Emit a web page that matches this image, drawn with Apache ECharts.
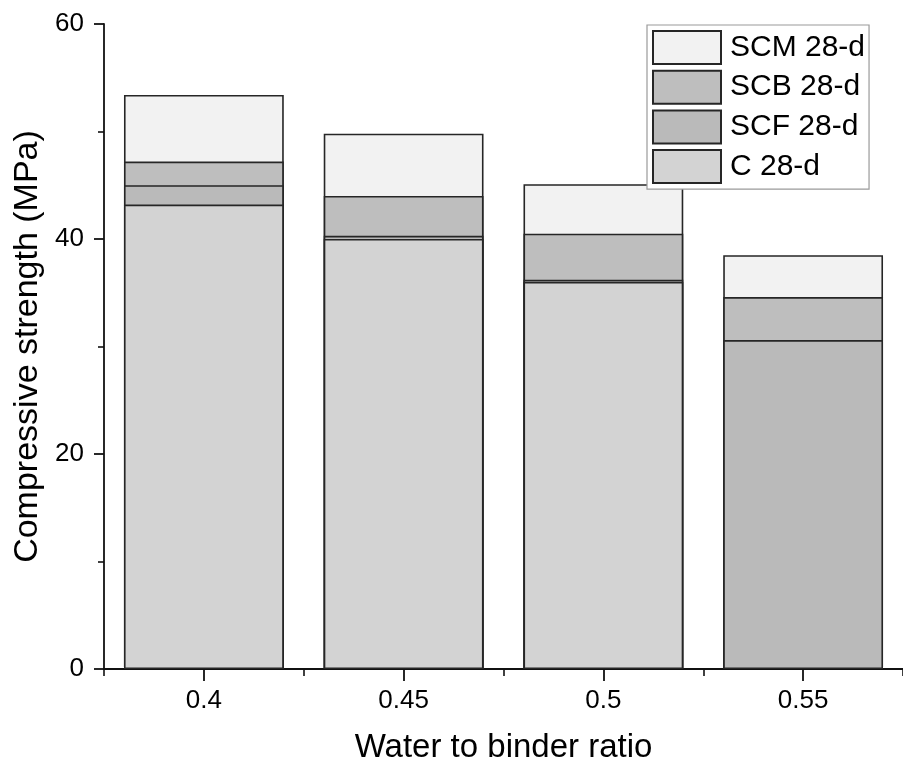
<!DOCTYPE html>
<html>
<head>
<meta charset="utf-8">
<title>Compressive strength vs water to binder ratio</title>
<script src="https://cdn.jsdelivr.net/npm/echarts@6/dist/echarts.min.js"></script>
<style>
  html, body { margin: 0; padding: 0; background: #ffffff; }
  #chart { width: 903px; height: 771px; }
</style>
</head>
<body>
<div id="chart"></div>
<script>
// Water to binder ratios (x categories)
const categories = ['0.4', '0.45', '0.5', '0.55'];

// 28-day compressive strength, MPa
const scm28 = [53.4, 49.8, 45.1, 38.5];
const scb28 = [47.2, 44.0, 40.5, 34.6];
const scf28 = [45.0, 40.3, 36.2, 30.6];
const c28   = [43.2, 40.0, 36.0, null];

const seriesNames = ['SCM 28-d', 'SCB 28-d', 'SCF 28-d', 'C 28-d'];
const seriesData  = [scm28, scb28, scf28, c28];
const seriesFill  = ['#f2f2f2', '#bebebe', '#bababa', '#d3d3d3'];

// y axis ticks
const yMin = 0, yMax = 60, yStep = 20;

const FONT = 'Liberation Sans, Arial, sans-serif';
const AXIS_COLOR = '#111111';

const chart = echarts.init(document.getElementById('chart'), null, { renderer: 'canvas' });

// Bars share one slot per category and overlap: later series sit in front.
const series = seriesNames.map((name, i) => ({
  name: name,
  type: 'bar',
  xAxisIndex: 0,
  data: seriesData[i],
  barWidth: '80%',
  barGap: '-100%',
  itemStyle: {
    color: seriesFill[i],
    borderColor: '#262626',
    borderWidth: 1.6
  },
  emphasis: { disabled: true },
  animation: false
}));

chart.setOption({
  animation: false,
  backgroundColor: '#ffffff',
  textStyle: { fontFamily: FONT },
  grid: { left: 104, top: 24, width: 800, height: 645, containLabel: false },
  legend: {
    data: seriesNames,
    orient: 'vertical',
    left: 647,
    top: 25,
    padding: [5, 4, 5, 5],
    itemWidth: 68,
    itemHeight: 33,
    itemGap: 4.7,
    selectedMode: false,
    borderColor: '#9a9a9a',
    borderWidth: 1.2,
    backgroundColor: '#ffffff',
    icon: 'rect',
    textStyle: { fontFamily: FONT, fontSize: 30, color: '#000000', padding: [0, 0, 0, 4] }
  },
  xAxis: [
    {
      type: 'category',
      data: categories,
      position: 'bottom',
      boundaryGap: true,
      name: 'Water to binder ratio',
      nameLocation: 'middle',
      nameGap: 62,
      nameTextStyle: { fontFamily: FONT, fontSize: 33, color: '#000000' },
      axisLine: { show: true, lineStyle: { color: AXIS_COLOR, width: 1.8 } },
      axisTick: { show: true, alignWithLabel: true, length: 12, lineStyle: { color: AXIS_COLOR, width: 1.8 } },
      axisLabel: { fontFamily: FONT, fontSize: 26, color: '#000000', margin: 19 },
      splitLine: { show: false }
    },
    {
      // boundary ticks between categories
      type: 'category',
      data: categories,
      position: 'bottom',
      offset: 0,
      boundaryGap: true,
      axisLine: { show: false },
      axisTick: { show: true, alignWithLabel: false, length: 7, lineStyle: { color: AXIS_COLOR, width: 1.6 } },
      axisLabel: { show: false },
      splitLine: { show: false }
    }
  ],
  yAxis: {
    type: 'value',
    min: yMin,
    max: yMax,
    interval: yStep,
    name: 'Compressive strength (MPa)',
    nameLocation: 'middle',
    nameGap: 56,
    nameTextStyle: { fontFamily: FONT, fontSize: 34, color: '#000000' },
    axisLine: { show: true, lineStyle: { color: AXIS_COLOR, width: 1.8 } },
    axisTick: { show: true, inside: false, length: 10, lineStyle: { color: AXIS_COLOR, width: 1.8 } },
    minorTick: { show: true, splitNumber: 2, length: 6, lineStyle: { color: AXIS_COLOR, width: 1.6 } },
    axisLabel: { fontFamily: FONT, fontSize: 26, color: '#000000', margin: 20 },
    splitLine: { show: false }
  },
  series: series
});
</script>
</body>
</html>
